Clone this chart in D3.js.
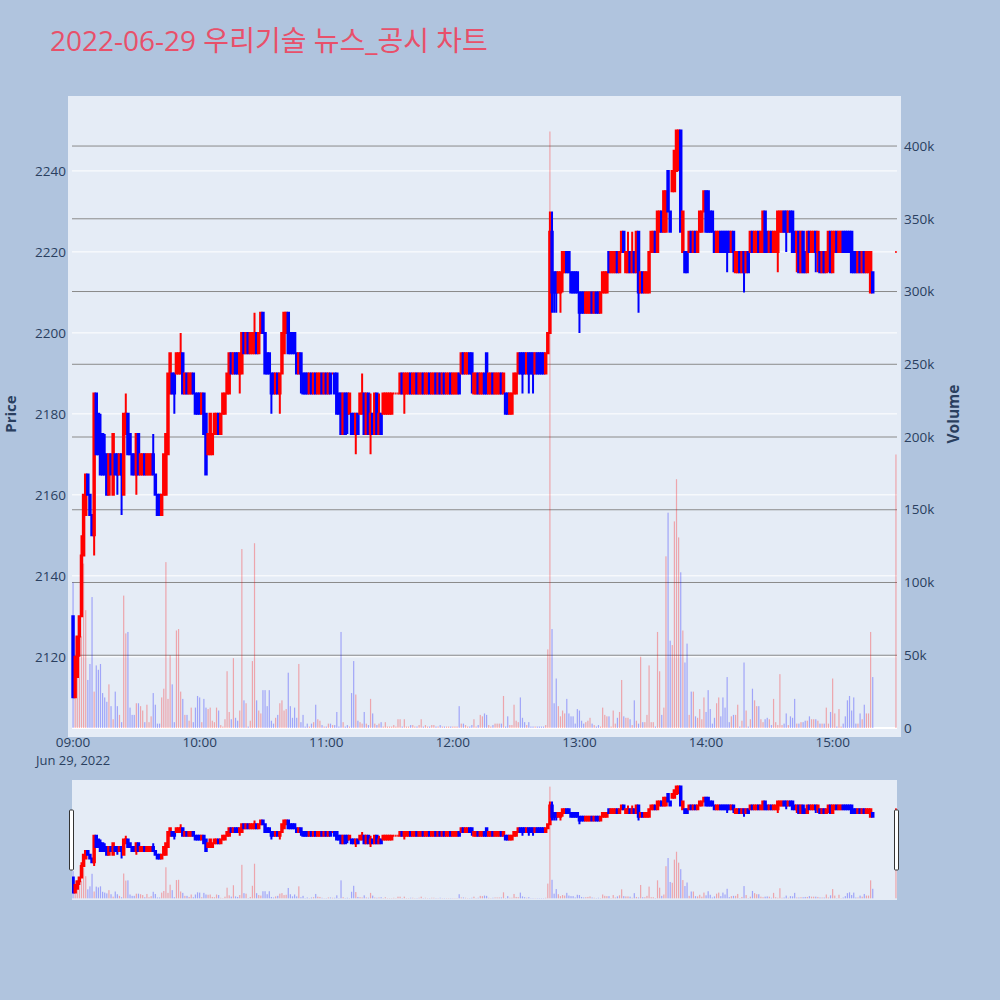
<!DOCTYPE html>
<html><head><meta charset="utf-8">
<script src="https://cdn.jsdelivr.net/npm/d3@7"></script>
<style>body{margin:0;background:#B0C4DE;}svg{display:block;}</style>
</head><body>
<svg id="chart" width="1000" height="1000"></svg>
<script>
const chartTitle = "2022-06-29 우리기술 뉴스_공시 차트";
const tradeDate = "2022-06-29";
const times = [
"09:00","09:01","09:02","09:03","09:04","09:05","09:06","09:07","09:08","09:09","09:10","09:11","09:12","09:13","09:14","09:15","09:16","09:17","09:18","09:19","09:20","09:21","09:22","09:23","09:24","09:25","09:26","09:27","09:28","09:29","09:30","09:31","09:32","09:33","09:34","09:35","09:36","09:37","09:38","09:39","09:40","09:41","09:42","09:43","09:44","09:45","09:46","09:47","09:48","09:49","09:50","09:51","09:52","09:53","09:54","09:55","09:56","09:57","09:58","09:59",
"10:00","10:01","10:02","10:03","10:04","10:05","10:06","10:07","10:08","10:09","10:10","10:11","10:12","10:13","10:14","10:15","10:16","10:17","10:18","10:19","10:20","10:21","10:22","10:23","10:24","10:25","10:26","10:27","10:28","10:29","10:30","10:31","10:32","10:33","10:34","10:35","10:36","10:37","10:38","10:39","10:40","10:41","10:42","10:43","10:44","10:45","10:46","10:47","10:48","10:49","10:50","10:51","10:52","10:53","10:54","10:55","10:56","10:57","10:58","10:59",
"11:00","11:01","11:02","11:03","11:04","11:05","11:06","11:07","11:08","11:09","11:10","11:11","11:12","11:13","11:14","11:15","11:16","11:17","11:18","11:19","11:20","11:21","11:22","11:23","11:24","11:25","11:26","11:27","11:28","11:29","11:30","11:31","11:32","11:33","11:34","11:35","11:36","11:37","11:38","11:39","11:40","11:41","11:42","11:43","11:44","11:45","11:46","11:47","11:48","11:49","11:50","11:51","11:52","11:53","11:54","11:55","11:56","11:57","11:58","11:59",
"12:00","12:01","12:02","12:03","12:04","12:05","12:06","12:07","12:08","12:09","12:10","12:11","12:12","12:13","12:14","12:15","12:16","12:17","12:18","12:19","12:20","12:21","12:22","12:23","12:24","12:25","12:26","12:27","12:28","12:29","12:30","12:31","12:32","12:33","12:34","12:35","12:36","12:37","12:38","12:39","12:40","12:41","12:42","12:43","12:44","12:45","12:46","12:47","12:48","12:49","12:50","12:51","12:52","12:53","12:54","12:55","12:56","12:57","12:58","12:59",
"13:00","13:01","13:02","13:03","13:04","13:05","13:06","13:07","13:08","13:09","13:10","13:11","13:12","13:13","13:14","13:15","13:16","13:17","13:18","13:19","13:20","13:21","13:22","13:23","13:24","13:25","13:26","13:27","13:28","13:29","13:30","13:31","13:32","13:33","13:34","13:35","13:36","13:37","13:38","13:39","13:40","13:41","13:42","13:43","13:44","13:45","13:46","13:47","13:48","13:49","13:50","13:51","13:52","13:53","13:54","13:55","13:56","13:57","13:58","13:59",
"14:00","14:01","14:02","14:03","14:04","14:05","14:06","14:07","14:08","14:09","14:10","14:11","14:12","14:13","14:14","14:15","14:16","14:17","14:18","14:19","14:20","14:21","14:22","14:23","14:24","14:25","14:26","14:27","14:28","14:29","14:30","14:31","14:32","14:33","14:34","14:35","14:36","14:37","14:38","14:39","14:40","14:41","14:42","14:43","14:44","14:45","14:46","14:47","14:48","14:49","14:50","14:51","14:52","14:53","14:54","14:55","14:56","14:57","14:58","14:59",
"15:00","15:01","15:02","15:03","15:04","15:05","15:06","15:07","15:08","15:09","15:10","15:11","15:12","15:13","15:14","15:15","15:16","15:17","15:18","15:19","15:30"];
const opens = [
2130,2110,2115,2125,2130,2145,2155,2165,2160,2155, 2150,2185,2180,2175,2175,2170,2170,2160,2170,2160,
2170,2170,2165,2170,2160,2175,2180,2175,2170,2170, 2165,2175,2165,2165,2170,2165,2165,2165,2170,2165,
2160,2160,2155,2160,2160,2170,2185,2190,2190,2190, 2190,2190,2195,2185,2190,2185,2185,2190,2185,2185,
2185,2180,2185,2180,2170,2170,2170,2175,2175,2180, 2175,2180,2180,2185,2185,2195,2190,2195,2195,2190,
2190,2200,2195,2200,2195,2195,2195,2200,2195,2200, 2205,2200,2195,2195,2190,2190,2185,2190,2185,2190,
2195,2200,2205,2200,2200,2200,2195,2190,2195,2190, 2190,2190,2185,2190,2185,2190,2185,2185,2190,2185,
2190,2185,2190,2190,2190,2190,2185,2185,2175,2185, 2185,2180,2180,2180,2175,2180,2180,2180,2185,2175,
2185,2175,2180,2175,2185,2175,2180,2180,2180,2180, 2180,2180,2185,2185,2185,2185,2190,2185,2185,2185,
2190,2185,2185,2190,2185,2185,2190,2185,2185,2190, 2185,2185,2190,2185,2190,2185,2190,2185,2185,2190,
2185,2185,2185,2190,2190,2195,2190,2190,2195,2195, 2185,2185,2190,2185,2185,2190,2195,2185,2185,2190,
2185,2185,2185,2190,2185,2185,2185,2180,2180,2185, 2185,2190,2195,2195,2195,2190,2195,2195,2195,2190,
2195,2195,2195,2195,2190,2195,2200,2225,2215,2215, 2210,2210,2215,2215,2220,2220,2215,2215,2215,2215,
2210,2210,2210,2205,2205,2205,2210,2205,2210,2210, 2205,2210,2210,2210,2220,2215,2215,2215,2220,2215,
2220,2225,2215,2215,2220,2215,2220,2215,2225,2210, 2215,2210,2210,2210,2220,2220,2225,2220,2225,2230,
2225,2225,2240,2230,2235,2235,2240,2245,2250,2220, 2220,2220,2220,2225,2220,2225,2220,2225,2225,2230,
2235,2235,2230,2230,2225,2220,2220,2225,2225,2225, 2225,2225,2220,2225,2215,2215,2220,2215,2220,2215,
2220,2220,2225,2220,2220,2225,2220,2220,2230,2225, 2220,2225,2220,2220,2220,2225,2225,2230,2230,2225,
2230,2230,2225,2220,2225,2215,2225,2220,2215,2225, 2220,2220,2225,2220,2220,2215,2220,2215,2220,2225,
2215,2220,2225,2220,2220,2225,2225,2225,2225,2225, 2220,2220,2215,2220,2215,2220,2215,2215,2210,2215,
2220];
const highs = [
2130,2120,2125,2130,2150,2160,2165,2165,2160,2155, 2185,2185,2180,2180,2175,2175,2170,2170,2170,2175,
2170,2170,2170,2170,2180,2185,2180,2175,2170,2170, 2175,2175,2170,2170,2170,2170,2170,2170,2175,2165,
2160,2160,2160,2170,2175,2190,2195,2190,2190,2195, 2195,2200,2195,2190,2190,2190,2190,2190,2185,2185,
2185,2185,2185,2180,2175,2180,2175,2180,2180,2180, 2180,2185,2185,2190,2195,2195,2195,2195,2195,2195,
2200,2200,2200,2200,2200,2200,2205,2200,2200,2205, 2205,2200,2195,2195,2190,2190,2190,2190,2190,2200,
2205,2205,2205,2200,2200,2200,2195,2195,2195,2190, 2190,2190,2190,2190,2190,2190,2190,2190,2190,2190,
2190,2190,2190,2190,2190,2190,2185,2185,2185,2185, 2185,2185,2180,2180,2180,2180,2185,2190,2185,2185,
2185,2185,2180,2185,2185,2185,2180,2185,2185,2185, 2185,2185,2185,2185,2185,2190,2190,2190,2190,2190,
2190,2190,2190,2190,2190,2190,2190,2190,2190,2190, 2190,2190,2190,2190,2190,2190,2190,2190,2190,2190,
2190,2190,2190,2190,2195,2195,2195,2195,2195,2195, 2190,2190,2190,2190,2190,2190,2195,2190,2190,2190,
2190,2190,2190,2190,2190,2185,2185,2185,2185,2190, 2190,2195,2195,2195,2195,2195,2195,2195,2195,2195,
2195,2195,2195,2195,2195,2200,2230,2230,2215,2215, 2215,2215,2220,2220,2220,2220,2215,2215,2215,2215,
2210,2210,2210,2210,2210,2210,2210,2210,2210,2210, 2210,2215,2215,2215,2220,2220,2220,2220,2220,2220,
2225,2225,2220,2225,2220,2225,2220,2225,2225,2215, 2215,2215,2215,2220,2225,2225,2225,2230,2230,2230,
2235,2235,2240,2230,2240,2245,2250,2250,2250,2230, 2220,2220,2225,2225,2225,2225,2225,2230,2230,2235,
2235,2235,2230,2230,2225,2225,2225,2225,2225,2225, 2225,2225,2225,2225,2220,2220,2220,2220,2220,2220,
2220,2225,2225,2225,2225,2225,2225,2230,2230,2225, 2225,2225,2225,2225,2230,2230,2230,2230,2230,2230,
2230,2230,2225,2225,2225,2225,2225,2220,2225,2225, 2225,2225,2225,2225,2220,2220,2220,2220,2225,2225,
2225,2225,2225,2225,2225,2225,2225,2225,2225,2225, 2220,2220,2220,2220,2220,2220,2220,2220,2220,2215,
2220];
const lows = [
2110,2110,2115,2120,2130,2145,2155,2160,2155,2150, 2145,2170,2170,2165,2165,2165,2160,2160,2165,2160,
2165,2160,2165,2155,2160,2175,2170,2170,2165,2165, 2160,2165,2165,2165,2165,2165,2165,2165,2165,2160,
2155,2155,2155,2160,2160,2170,2185,2185,2180,2190, 2190,2190,2185,2185,2185,2185,2185,2185,2180,2180,
2180,2180,2175,2165,2170,2170,2170,2175,2175,2175, 2175,2180,2180,2185,2185,2190,2190,2190,2190,2185,
2190,2195,2195,2195,2195,2195,2195,2195,2195,2200, 2200,2190,2190,2190,2180,2185,2185,2185,2180,2190,
2195,2200,2195,2195,2195,2195,2190,2190,2185,2185, 2185,2185,2185,2185,2185,2185,2185,2185,2185,2185,
2185,2185,2185,2190,2185,2180,2180,2175,2175,2175, 2175,2180,2175,2175,2170,2175,2180,2180,2175,2175,
2175,2170,2175,2175,2175,2175,2175,2180,2180,2180, 2180,2180,2185,2185,2185,2185,2185,2180,2185,2185,
2185,2185,2185,2185,2185,2185,2185,2185,2185,2185, 2185,2185,2185,2185,2185,2185,2185,2185,2185,2185,
2185,2185,2185,2185,2190,2190,2190,2190,2190,2185, 2185,2185,2185,2185,2185,2185,2185,2185,2185,2185,
2185,2185,2185,2185,2185,2180,2180,2180,2180,2185, 2185,2190,2190,2185,2190,2190,2185,2190,2185,2190,
2190,2190,2190,2190,2190,2195,2200,2205,2205,2205, 2210,2205,2210,2215,2215,2215,2210,2210,2210,2210,
2200,2205,2205,2205,2205,2205,2205,2205,2205,2205, 2205,2210,2210,2210,2215,2215,2215,2215,2215,2215,
2220,2220,2215,2215,2215,2215,2215,2215,2205,2210, 2210,2210,2210,2210,2220,2220,2220,2220,2225,2225,
2225,2225,2230,2225,2235,2235,2240,2240,2225,2220, 2215,2215,2220,2220,2220,2220,2220,2225,2225,2230,
2225,2225,2225,2225,2220,2220,2220,2220,2220,2220, 2215,2220,2220,2215,2215,2215,2215,2215,2210,2215,
2215,2220,2220,2220,2220,2220,2220,2220,2220,2220, 2220,2220,2220,2220,2215,2225,2225,2225,2220,2225,
2225,2220,2220,2215,2215,2215,2215,2215,2215,2220, 2220,2220,2215,2215,2215,2215,2215,2215,2215,2215,
2215,2220,2220,2220,2220,2220,2220,2220,2220,2215, 2215,2215,2215,2215,2215,2215,2215,2215,2210,2210,
2220];
const closes = [
2110,2120,2125,2130,2145,2160,2165,2160,2155,2150, 2185,2170,2170,2165,2165,2165,2160,2170,2165,2175,
2165,2165,2170,2165,2180,2180,2170,2170,2165,2165, 2175,2165,2170,2170,2165,2170,2170,2170,2165,2160,
2155,2155,2160,2170,2175,2190,2195,2185,2185,2195, 2195,2195,2185,2190,2185,2190,2190,2185,2180,2180,
2180,2185,2175,2165,2175,2180,2175,2180,2180,2175, 2180,2185,2185,2190,2195,2190,2195,2190,2190,2195,
2200,2195,2200,2195,2200,2200,2200,2195,2200,2205, 2200,2190,2190,2190,2185,2185,2190,2185,2190,2200,
2205,2205,2195,2195,2195,2195,2190,2195,2190,2185, 2185,2185,2190,2185,2190,2185,2190,2190,2185,2190,
2185,2190,2185,2190,2185,2180,2180,2175,2185,2175, 2180,2185,2175,2175,2180,2175,2185,2185,2175,2185,
2175,2180,2175,2185,2175,2180,2175,2185,2185,2185, 2185,2185,2185,2185,2185,2190,2185,2190,2190,2190,
2185,2190,2190,2185,2190,2190,2185,2190,2190,2185, 2190,2190,2185,2190,2185,2190,2185,2190,2190,2185,
2190,2190,2190,2185,2195,2190,2195,2195,2190,2190, 2190,2190,2185,2190,2190,2185,2185,2190,2190,2185,
2190,2190,2190,2185,2190,2180,2180,2185,2185,2190, 2190,2195,2190,2190,2190,2195,2190,2190,2190,2195,
2190,2190,2190,2190,2195,2200,2225,2210,2210,2210, 2215,2215,2220,2220,2215,2215,2210,2210,2210,2210,
2205,2205,2205,2210,2210,2210,2205,2210,2205,2205, 2210,2215,2215,2215,2215,2220,2220,2220,2215,2220,
2225,2220,2220,2220,2215,2220,2215,2225,2210,2215, 2210,2215,2215,2220,2225,2225,2220,2230,2230,2225,
2235,2235,2230,2225,2240,2245,2250,2250,2225,2230, 2215,2215,2225,2220,2225,2220,2225,2230,2230,2235,
2225,2225,2225,2225,2220,2225,2225,2220,2220,2220, 2220,2220,2225,2220,2220,2220,2215,2220,2215,2220,
2215,2225,2220,2225,2225,2220,2225,2230,2220,2220, 2225,2220,2225,2225,2230,2230,2230,2225,2225,2230,
2225,2220,2220,2225,2215,2225,2215,2215,2225,2220, 2225,2225,2220,2225,2215,2220,2215,2220,2225,2215,
2225,2225,2220,2225,2225,2220,2220,2220,2220,2215, 2215,2215,2220,2215,2220,2215,2220,2220,2220,2210,
2220];
// volume in thousands of shares
const volumesK = [
100,63,49,76,63,113,81,33,44,90, 25,43,40,44,24,21,18,30,15,6,
25,15,9,4,91,65,66,14,9,9, 17,17,15,12,4,16,4,8,24,16,
3,3,21,27,114,20,50,30,4,67, 68,25,20,9,9,5,14,4,14,22,
21,4,20,14,13,14,5,4,14,12, 2,1,6,39,11,6,48,7,5,12,
123,19,17,1,5,46,127,19,12,10, 26,26,15,26,5,3,7,9,17,19,
12,13,38,15,7,14,7,44,4,9, 1,3,1,3,4,16,6,5,2,1,
1,3,3,2,2,11,1,66,4,1, 2,1,24,46,23,5,4,3,11,3,
2,20,10,3,2,3,4,1,4,1, 1,1,2,1,6,6,1,6,1,1,
2,2,1,1,2,6,1,2,1,1, 2,2,1,1,2,1,1,1,1,1,
1,1,1,15,3,3,2,1,1,2, 6,1,2,9,8,10,9,2,1,2,
3,3,3,3,22,1,8,2,2,16, 5,4,21,7,4,2,4,1,1,1,
1,1,1,1,2,54,410,68,17,34, 15,8,12,10,20,10,8,8,3,13,
12,5,3,4,5,7,3,2,1,2, 1,14,9,8,8,1,12,3,7,11,
33,8,7,7,6,2,19,5,3,49, 4,4,9,43,4,4,1,66,39,9,
14,118,148,60,57,142,171,131,107,67, 45,58,9,25,25,8,7,13,6,21,
11,26,13,3,7,17,21,8,21,14, 35,4,8,9,9,16,1,5,45,12,
1,6,27,19,15,15,6,4,6,7, 6,2,20,4,2,37,2,3,10,2,
8,7,20,3,3,4,4,5,5,8, 6,6,6,5,3,3,3,14,3,11,
34,10,1,13,1,3,8,19,22,12, 21,3,3,10,6,16,10,10,66,35,
188];
const priceTicks = [2120, 2140, 2160, 2180, 2200, 2220, 2240];
const volumeTicksK = [0, 50, 100, 150, 200, 250, 300, 350, 400];
const volumeTickLabels = ["0", "50k", "100k", "150k", "200k", "250k", "300k", "350k", "400k"];
const hourTicks = ["09:00", "10:00", "11:00", "12:00", "13:00", "14:00", "15:00"];
const dateLabel = "Jun 29, 2022";
const priceRange = [2100.2, 2258.5];
const volumeRangeK = [-6.2, 434.4];

const UP = "#ff0000", DOWN = "#0000ff";
const FONT = "'Open Sans', 'Noto Sans CJK KR', sans-serif";
const TXT = "#2a3f5f";

const svg = d3.select("#chart");
const parse = d3.timeParse("%Y-%m-%d %H:%M");
const dates = times.map(t => parse(tradeDate + " " + t));
const minute = 60000;

// increasing flag (plotly-like: ties follow previous close)
const inc = [];
let prevInc = true;
for (let i = 0; i < opens.length; i++) {
  let v;
  if (closes[i] > opens[i]) v = true;
  else if (closes[i] < opens[i]) v = false;
  else if (i > 0 && closes[i] !== closes[i-1]) v = closes[i] > closes[i-1];
  else v = prevInc;
  inc.push(v); prevInc = v;
}
const data = dates.map((d, i) => ({d, o: opens[i], h: highs[i], l: lows[i], c: closes[i], v: volumesK[i], up: inc[i]}));

const x = d3.scaleTime()
  .domain([new Date(+dates[0] - minute / 2), new Date(+dates[dates.length - 1] + minute / 2)])
  .range([72, 897]);
const y = d3.scaleLinear().domain(priceRange).range([737, 96]);
const yv = d3.scaleLinear().domain(volumeRangeK).range([737, 96]);
const ys = d3.scaleLinear().domain(priceRange).range([900, 780]);
const yvs = d3.scaleLinear().domain(volumeRangeK).range([900, 780]);

const pxPerMin = x(new Date(+dates[0] + minute)) - x(dates[0]);
const bodyW = pxPerMin * 0.7;

// title
svg.append("text").attr("x", 50).attr("y", 50.5)
  .attr("font-family", FONT).attr("font-size", 28).attr("fill", "#e8506a")
  .text(chartTitle);

// plot background
svg.append("rect").attr("x", 68).attr("y", 96).attr("width", 833).attr("height", 641).attr("fill", "#E5ECF6");

const defs = svg.append("defs");
defs.append("clipPath").attr("id", "clipMain").append("rect").attr("x", 68).attr("y", 96).attr("width", 833).attr("height", 641);
defs.append("clipPath").attr("id", "clipSlider").append("rect").attr("x", 72).attr("y", 780).attr("width", 825).attr("height", 120);

// gridlines
const grid = svg.append("g");
grid.selectAll("line.pg").data(priceTicks).join("line").attr("class", "pg")
  .attr("x1", 72).attr("x2", 897).attr("y1", d => y(d)).attr("y2", d => y(d))
  .attr("stroke", "#ffffff").attr("stroke-width", 1);
grid.selectAll("line.vg").data(volumeTicksK.filter(v => v > 0)).join("line").attr("class", "vg")
  .attr("x1", 72).attr("x2", 897).attr("y1", d => yv(d)).attr("y2", d => yv(d))
  .attr("stroke", "#8a8a8a").attr("stroke-width", 1);
grid.append("line").attr("x1", 72).attr("x2", 897).attr("y1", yv(0)).attr("y2", yv(0))
  .attr("stroke", "#ffffff").attr("stroke-width", 2);

function candlePath(d, ys_) {
  const cx = x(d.d);
  const yo = ys_(d.o), yc = ys_(d.c), yh = ys_(d.h), yl = ys_(d.l);
  const top = Math.min(yo, yc), bot = Math.max(yo, yc);
  return `M${cx - bodyW / 2},${top}H${cx + bodyW / 2}V${bot}H${cx - bodyW / 2}Z` +
         `M${cx},${top}V${yh}M${cx},${bot}V${yl}`;
}
function drawCandles(g, ys_) {
  g.selectAll("path.c").data(data).join("path").attr("class", "c")
    .attr("d", d => candlePath(d, ys_))
    .attr("fill", d => d.up ? UP : DOWN)
    .attr("stroke", d => d.up ? UP : DOWN)
    .attr("stroke-width", 2);
}
function drawVolume(g, yv_) {
  g.selectAll("rect.v").data(data).join("rect").attr("class", "v")
    .attr("x", d => x(d.d) - 0.6).attr("width", 1.2)
    .attr("y", d => yv_(d.v)).attr("height", d => yv_(0) - yv_(d.v))
    .attr("fill", d => d.up ? UP : DOWN).attr("fill-opacity", 0.3);
}

const main = svg.append("g").attr("clip-path", "url(#clipMain)");
drawCandles(main.append("g"), y);
drawVolume(main.append("g"), yv);

// axes labels
const axes = svg.append("g").attr("font-family", FONT).attr("font-size", 13.5).attr("fill", TXT);
axes.selectAll("text.yl").data(priceTicks).join("text").attr("class", "yl")
  .attr("x", 66).attr("y", d => y(d)).attr("dy", "0.35em").attr("text-anchor", "end").text(d => d);
axes.selectAll("text.yr").data(volumeTicksK).join("text").attr("class", "yr")
  .attr("x", 904).attr("y", d => yv(d)).attr("dy", "0.35em").attr("text-anchor", "start")
  .text((d, i) => volumeTickLabels[i]);
axes.selectAll("text.xl").data(hourTicks).join("text").attr("class", "xl")
  .attr("x", d => x(parse(tradeDate + " " + d))).attr("y", 746.5).attr("text-anchor", "middle").text(d => d);
axes.append("text").attr("x", x(parse(tradeDate + " " + hourTicks[0]))).attr("y", 765)
  .attr("text-anchor", "middle").attr("font-size", 13).text(dateLabel);

svg.append("text").attr("transform", "translate(16,414) rotate(-90)")
  .attr("text-anchor", "middle").attr("font-family", FONT).attr("font-size", 15).attr("font-weight", "bold")
  .attr("fill", TXT).text("Price");
svg.append("text").attr("transform", "translate(959,414) rotate(-90)")
  .attr("text-anchor", "middle").attr("font-family", FONT).attr("font-size", 15.5).attr("font-weight", "bold")
  .attr("fill", TXT).text("Volume");

// range slider
svg.append("rect").attr("x", 72).attr("y", 780).attr("width", 825).attr("height", 120).attr("fill", "#E5ECF6");
const slider = svg.append("g").attr("clip-path", "url(#clipSlider)");
drawCandles(slider.append("g"), ys);
drawVolume(slider.append("g"), yvs);
[72, 897].forEach(hx => {
  svg.append("rect").attr("x", hx - 2.5).attr("y", 810).attr("width", 4).attr("height", 60).attr("rx", 1)
    .attr("fill", "#ffffff").attr("stroke", "#333").attr("stroke-width", 1);
});
</script>
</body></html>
